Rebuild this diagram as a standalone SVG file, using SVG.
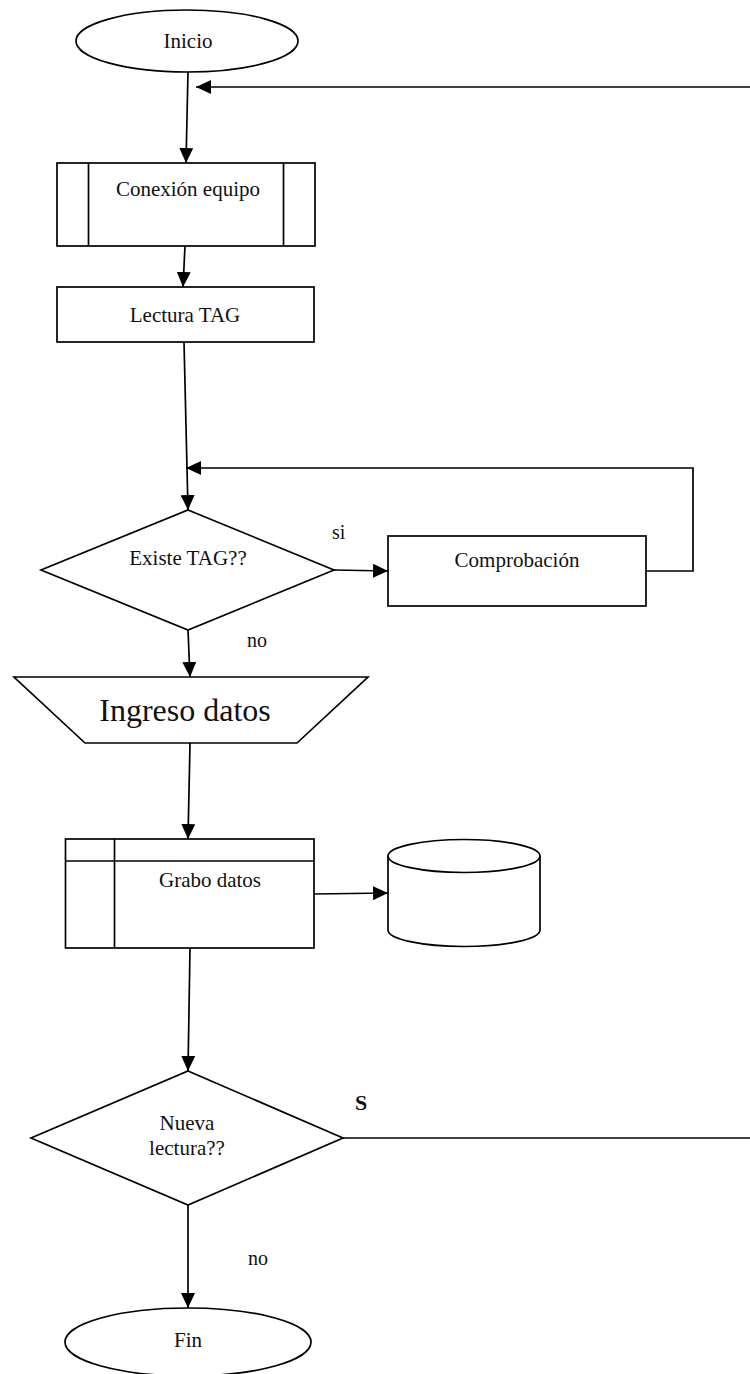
<svg xmlns="http://www.w3.org/2000/svg" width="750" height="1374" viewBox="0 0 750 1374">
  <style>
    .shape { fill: #fff; stroke: #000; stroke-width: 1.7; }
    .line { fill: none; stroke: #000; stroke-width: 1.7; }
    .lbl { font-family: "Liberation Serif", "Times New Roman", serif; font-size: 21px; fill: #111; text-anchor: middle; }
    .tag { font-family: "Liberation Serif", "Times New Roman", serif; font-size: 20px; fill: #111; }
  </style>
  <defs>
    <marker id="arrow" markerUnits="userSpaceOnUse" markerWidth="16" markerHeight="14" refX="15" refY="7" orient="auto">
      <path d="M0,0 L15,7 L0,14 z" fill="#000"/>
    </marker>
  </defs>
  <rect width="750" height="1374" fill="#fff"/>

  <g id="connectors">
    <line class="line" x1="188" y1="72" x2="186" y2="163" marker-end="url(#arrow)"/>
    <line class="line" x1="750" y1="87" x2="196" y2="87" marker-end="url(#arrow)"/>
    <line class="line" x1="185" y1="246" x2="183" y2="287" marker-end="url(#arrow)"/>
    <line class="line" x1="184" y1="342" x2="188" y2="510" marker-end="url(#arrow)"/>
    <line class="line" x1="334" y1="570" x2="388" y2="571" marker-end="url(#arrow)"/>
    <polyline class="line" points="646,571 693,571 693,468 186,468" marker-end="url(#arrow)"/>
    <line class="line" x1="188" y1="630" x2="190" y2="677" marker-end="url(#arrow)"/>
    <line class="line" x1="190" y1="743" x2="188" y2="839" marker-end="url(#arrow)"/>
    <line class="line" x1="314" y1="894" x2="388" y2="893" marker-end="url(#arrow)"/>
    <line class="line" x1="190" y1="948" x2="188" y2="1071" marker-end="url(#arrow)"/>
    <line class="line" x1="343" y1="1138" x2="750" y2="1138"/>
    <line class="line" x1="188" y1="1205" x2="188" y2="1308" marker-end="url(#arrow)"/>
    <text class="tag" x="332" y="539">si</text>
    <text class="tag" x="247" y="647">no</text>
    <text class="tag" x="355" y="1110" style="font-size:22px;font-weight:bold">S</text>
    <text class="tag" x="248" y="1265">no</text>
  </g>

  <g id="inicio">
    <ellipse class="shape" cx="187" cy="41" rx="111" ry="31"/>
    <text class="lbl" x="188" y="48">Inicio</text>
  </g>

  <g id="conexion-equipo">
    <rect class="shape" x="57" y="163" width="258" height="83"/>
    <line class="line" x1="88.5" y1="163" x2="88.5" y2="246"/>
    <line class="line" x1="283.5" y1="163" x2="283.5" y2="246"/>
    <text class="lbl" x="188" y="196">Conexión equipo</text>
  </g>

  <g id="lectura-tag">
    <rect class="shape" x="57" y="287" width="257" height="55"/>
    <text class="lbl" x="185" y="322">Lectura TAG</text>
  </g>

  <g id="existe-tag">
    <polygon class="shape" points="188,510 334,570 188,630 41,570"/>
    <text class="lbl" x="188" y="565">Existe TAG??</text>
  </g>

  <g id="comprobacion">
    <rect class="shape" x="388" y="536" width="258" height="70"/>
    <text class="lbl" x="517" y="567">Comprobación</text>
  </g>

  <g id="ingreso-datos">
    <polygon class="shape" points="14,677 368,677 297,743 85,743"/>
    <text class="lbl" x="185" y="721" style="font-size:32px">Ingreso datos</text>
  </g>

  <g id="grabo-datos">
    <rect class="shape" x="65.5" y="839" width="248.5" height="109"/>
    <line class="line" x1="65.5" y1="861" x2="314" y2="861"/>
    <line class="line" x1="114.5" y1="839" x2="114.5" y2="948"/>
    <text class="lbl" x="210" y="887">Grabo datos</text>
  </g>

  <g id="almacen">
    <path class="shape" d="M388,856 L388,930 A76,16.5 0 0 0 540,930 L540,856"/>
    <ellipse class="shape" cx="464" cy="856" rx="76" ry="16.5"/>
  </g>

  <g id="nueva-lectura">
    <polygon class="shape" points="188,1071 343,1138 188,1205 31,1138"/>
    <text class="lbl" x="187" y="1130">Nueva</text>
    <text class="lbl" x="187" y="1155">lectura??</text>
  </g>

  <g id="fin">
    <ellipse class="shape" cx="188" cy="1342" rx="123" ry="34"/>
    <text class="lbl" x="188" y="1347">Fin</text>
  </g>
</svg>
